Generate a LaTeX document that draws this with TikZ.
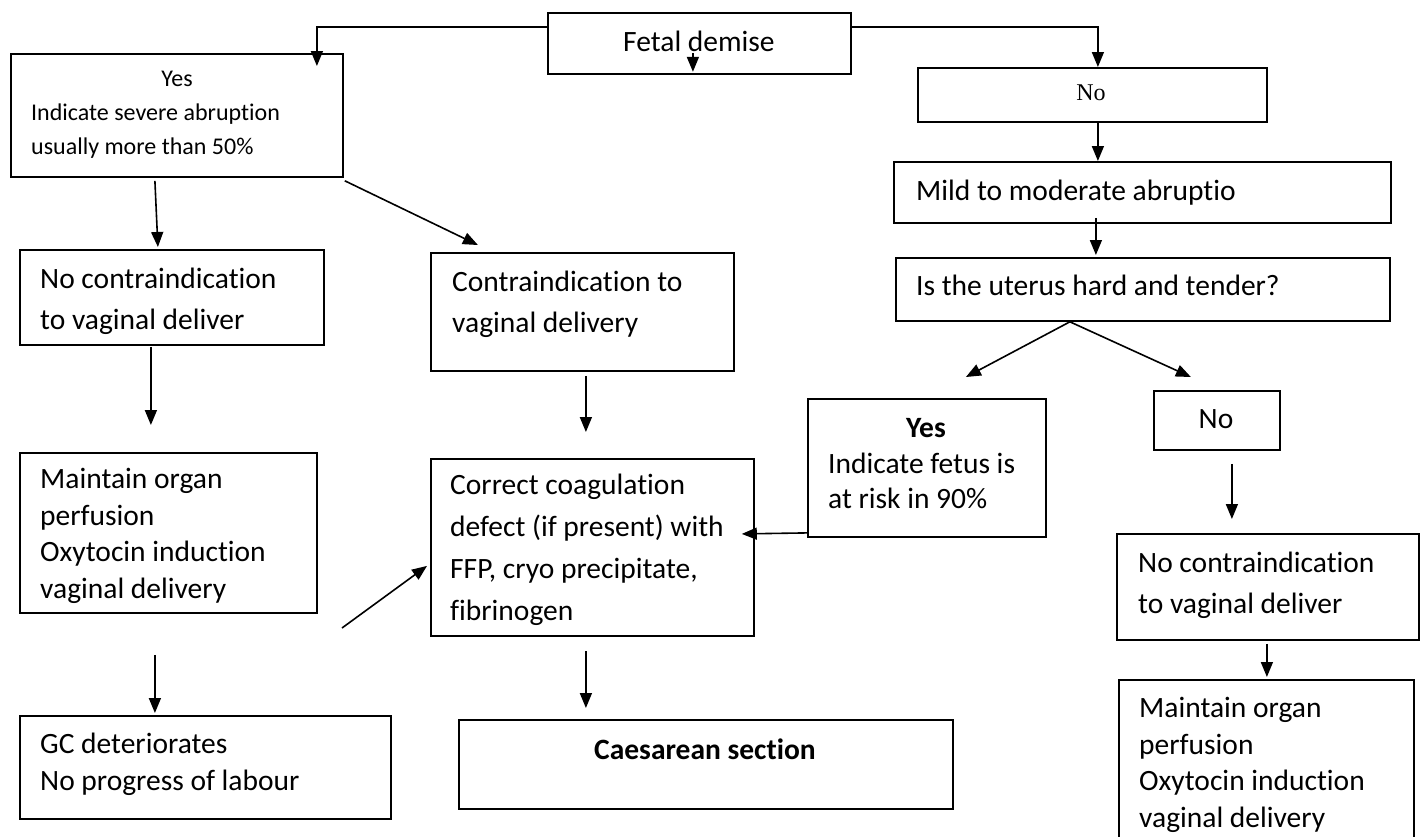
\documentclass[tikz,border=0pt]{standalone}
\usepackage{fontspec}
\setmainfont{Carlito}[Ligatures=NoCommon]
\newfontfamily\nofont{Liberation Serif}
\usetikzlibrary{arrows.meta,calc}

\begin{document}
\begin{tikzpicture}[x=1pt,y=-1pt,
  box/.style={draw=black, line width=1.8pt, rectangle, inner sep=0pt, anchor=north west},
  % multi-line texts are placed by the baseline of their last line
  txt/.style={inner sep=0pt, anchor=base west, align=left},
  ctxt/.style={inner sep=0pt, anchor=base},
  arr/.style={draw=black, line width=1.6pt, -{Triangle[length=15pt,width=12pt]}},
  wide/.style={font=\fontsize{29.5}{41}\selectfont},
  narrow/.style={font=\fontsize{29.5}{36.5}\selectfont},
  small/.style={font=\fontsize{24}{34}\selectfont}]

\useasboundingbox (0,0) rectangle (1421,836);
\clip (0,0) rectangle (1421,836);

% ---------- boxes ----------
\node[box, minimum width=303pt, minimum height=61pt]  (fetal)   at (547,12)  {};
\node[box, minimum width=332pt, minimum height=123pt] (yesA)    at (10,53)   {};
\node[box, minimum width=349pt, minimum height=54pt]  (noA)     at (917,67)  {};
\node[box, minimum width=497pt, minimum height=61pt]  (mild)    at (893,161) {};
\node[box, minimum width=494pt, minimum height=63pt]  (uterus)  at (895,257) {};
\node[box, minimum width=304pt, minimum height=95pt]  (nocL)    at (19,249)  {};
\node[box, minimum width=303pt, minimum height=118pt] (contra)  at (430,252) {};
\node[box, minimum width=238pt, minimum height=138pt] (yesB)    at (807,398) {};
\node[box, minimum width=126pt, minimum height=59pt]  (noB)     at (1153,390){};
\node[box, minimum width=297pt, minimum height=160pt] (maintL)  at (19,452)  {};
\node[box, minimum width=323pt, minimum height=177pt] (correct) at (430,458) {};
\node[box, minimum width=302pt, minimum height=106pt] (nocR)    at (1116,533){};
\node[box, minimum width=371pt, minimum height=103pt] (gc)      at (19,715)  {};
\node[box, minimum width=494pt, minimum height=89pt]  (cs)      at (458,719) {};
\node[box, minimum width=295pt, minimum height=200pt] (maintR)  at (1118,679){};

% ---------- texts ----------
\node[txt, wide] (tFetal) at (623,51) {Fetal demise};
\node[ctxt, small] (tYesA) at (177,86) {Yes};
\node[txt, small] (tSevere) at (31,154) {Indicate severe abruption\\usually more than 50\%};
\node[ctxt, font=\nofont\fontsize{24}{28}\selectfont] (tNoA) at (1091,100) {No};
\node[txt, wide] (tMild) at (916,200) {Mild to moderate abruptio};
\node[txt, wide] (tUterus) at (916,295) {Is the uterus hard and tender?};
\node[txt, wide] (tNocL) at (40,329) {No contraindication\\to vaginal deliver};
\node[txt, wide] (tContra) at (452,332) {Contraindication to\\vaginal delivery};
\node[ctxt, font=\fontsize{29.5}{41}\selectfont\bfseries] (tYesB) at (926,437) {Yes};
\node[txt, font=\fontsize{29.5}{35}\selectfont] (tRisk) at (828,508) {Indicate fetus is\\at risk in 90\%};
\node[ctxt, wide] (tNoB) at (1216,428) {No};
\node[txt, narrow] (tMaintL) at (40,598) {Maintain organ\\perfusion\\Oxytocin induction\\vaginal delivery};
\node[txt, font=\fontsize{29.5}{41.7}\selectfont] (tCorrect) at (450,620) {Correct coagulation\\defect (if present) with\\FFP, cryo precipitate,\\fibrinogen};
\node[txt, wide] (tNocR) at (1138,613) {No contraindication\\to vaginal deliver};
\node[txt, narrow] (tMaintR) at (1139,827) {Maintain organ\\perfusion\\Oxytocin induction\\vaginal delivery};
\node[txt, font=\fontsize{29.5}{37}\selectfont] (tGc) at (40,790) {GC deteriorates\\No progress of labour};
\node[ctxt, font=\fontsize{29.5}{41}\selectfont\bfseries] (tCs) at (705,759) {Caesarean section};

% ---------- connectors ----------
\draw[arr] ($(fetal.west)+(0,-16.5)$) -| ($(yesA.north)+(140,13)$);
\draw[arr] ($(fetal.east)+(0,-16.5)$) -| ($(noA.north)+(5.5,0)$);
\draw[arr] ($(fetal.south)+(-6.5,-22)$) -- ($(fetal.south)+(-6.5,-3)$);
\draw[arr] ($(noA.south)+(5.5,0)$) -- ($(mild.north)+(-44.5,0)$);
\draw[arr] ($(mild.south)+(-46.5,-6)$) -- ($(uterus.north)+(-47,-2)$);
\draw[arr] ($(uterus.south)+(-73,0)$) -- ($(yesB.north)+(39,-21)$);
\draw[arr] ($(uterus.south)+(-73,0)$) -- ($(noB.north)+(-26,-13)$);
\draw[arr] ($(yesB.west)+(0,65)$) -- ($(correct.east)+(-13,-13.5)$);
\draw[arr] ($(noB.south)+(15,13)$) -- ($(nocR.north)+(-36,-14)$);
\draw[arr] ($(nocR.south)+(-1,3)$) -- ($(maintR.north)+(0.5,-2)$);
\draw[arr] ($(yesA.south)+(-22,3)$) -- ($(nocL.north)+(-14,-2)$);
\draw[arr] ($(yesA.south east)+(1,3)$) -- ($(contra.north)+(-104.5,-7)$);
\draw[arr] ($(nocL.south)+(-21,1)$) -- ($(maintL.north)+(-17.5,-27)$);
\draw[arr] ($(contra.south)+(3.5,4)$) -- ($(correct.north)+(-6.5,-26)$);
\coordinate (gcUp) at (342,628);
\draw[arr] (gcUp) -- ($(correct.west)+(-3,18.5)$);
\draw[arr] ($(maintL.south)+(-13.5,41)$) -- ($(gc.north)+(-50.5,-2)$);
\draw[arr] ($(correct.south)+(-6.5,14.5)$) -- ($(cs.north)+(-120,-11)$);
\end{tikzpicture}
\end{document}
